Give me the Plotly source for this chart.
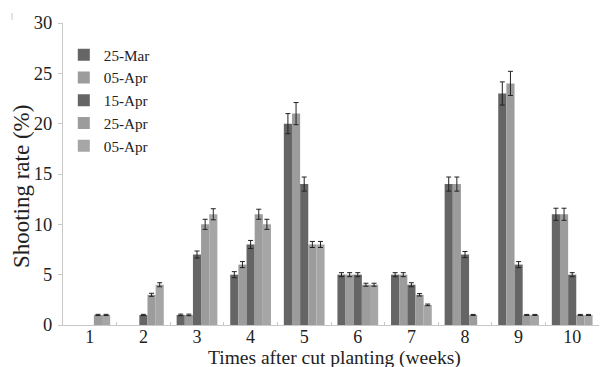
import plotly.graph_objects as go

weeks = ["1", "2", "3", "4", "5", "6", "7", "8", "9", "10"]
series_names = ["25-Mar", "05-Apr", "15-Apr", "25-Apr", "05-Apr "]
mar25 = [None, None, 1, 5, 20, 5, 5, 14, 23, 11]
apr05 = [None, None, 1, 6, 21, 5, 5, 14, 24, 11]
apr15 = [None, 1, 7, 8, 14, 5, 4, 7, 6, 5]
apr25 = [1, 3, 10, 11, 8, 4, 3, 1, 1, 1]
apr05b = [1, 4, 11, 10, 8, 4, 2, None, 1, 1]
err_mar25 = [0, 0, 0.08, 0.3, 1.0, 0.2, 0.2, 0.7, 1.15, 0.6]
err_apr05 = [0, 0, 0.08, 0.3, 1.1, 0.2, 0.2, 0.7, 1.2, 0.6]
err_apr15 = [0, 0.06, 0.35, 0.4, 0.7, 0.2, 0.2, 0.3, 0.3, 0.2]
err_apr25 = [0.06, 0.15, 0.5, 0.5, 0.3, 0.15, 0.12, 0.05, 0.05, 0.05]
err_apr05b = [0.06, 0.2, 0.55, 0.5, 0.3, 0.15, 0.08, 0, 0.05, 0.05]

x_title = "Times after cut planting (weeks)"
y_title = "Shooting rate (%)"

values = [mar25, apr05, apr15, apr25, apr05b]
errors = [err_mar25, err_apr05, err_apr15, err_apr25, err_apr05b]
colors = ["#656565", "#9c9c9c", "#656565", "#9c9c9c", "#a6a6a6"]

font_family = "Liberation Serif, Times New Roman, serif"

fig = go.Figure()
for name, vals, errs, col in zip(series_names, values, errors, colors):
    fig.add_trace(go.Bar(
        x=weeks, y=vals, name=name,
        marker=dict(color=col, line=dict(width=0)),
        error_y=dict(type="data", array=errs, visible=True,
                     color="#222222", thickness=1, width=2.5),
    ))

fig.add_annotation(text=x_title, xref="paper", yref="paper",
                   x=0.506, y=-0.109, xanchor="center", yanchor="middle",
                   showarrow=False, font=dict(size=19.5, family=font_family, color="#222222"))
fig.add_annotation(text=y_title, xref="paper", yref="paper", textangle=-90,
                   x=-0.077, y=0.459, xanchor="center", yanchor="middle",
                   showarrow=False, font=dict(size=23, family=font_family, color="#222222"))
fig.add_shape(type="line", xref="paper", yref="paper",
              x0=-0.095, x1=-0.095, y0=1.01, y1=1.033,
              line=dict(color="#c8c8c8", width=1))

fig.update_layout(
    width=602, height=367,
    margin=dict(l=63, r=3, t=23, b=42),
    paper_bgcolor="white", plot_bgcolor="white",
    barmode="group", bargap=0.24, bargroupgap=0,
    font=dict(family=font_family, color="#222222", size=18),
    showlegend=True,
    legend=dict(x=0.0015, y=0.949, xanchor="left", yanchor="top",
                font=dict(size=15.2, family=font_family, color="#222222"),
                bgcolor="rgba(0,0,0,0)", itemwidth=30, tracegroupgap=0),
    xaxis=dict(
        showline=True, linecolor="#c8c8c8", linewidth=1,
        ticks="inside", tickson="boundaries", ticklen=3, tickcolor="#c8c8c8",
        tickfont=dict(size=18), automargin=False, ticklabelstandoff=-5,
        showgrid=False,
    ),
    yaxis=dict(
        range=[0, 30], dtick=5,
        showline=True, linecolor="#c8c8c8", linewidth=1,
        ticks="outside", ticklen=4, tickcolor="#c8c8c8",
        tickfont=dict(size=18.5), automargin=False, ticklabelstandoff=2,
        showgrid=False, zeroline=False,
    ),
)

fig.write_html("out.html", config={"displayModeBar": False},
               post_script="document.body.style.margin='0px';document.body.style.overflow='hidden';")
